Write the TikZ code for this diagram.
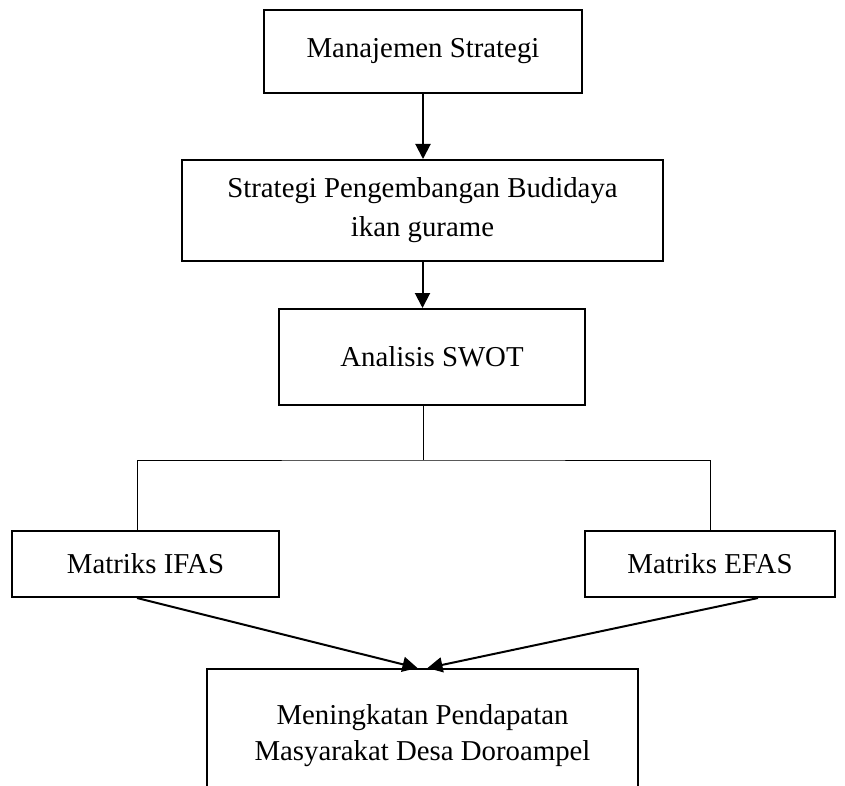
\documentclass[tikz,border=0pt]{standalone}
\usepackage{fontspec}
\setmainfont{Liberation Serif}
\usetikzlibrary{arrows.meta}

\begin{document}
\begin{tikzpicture}[x=0.5pt,y=-0.5pt,
  blk/.style={draw,line width=1pt,align=center,inner sep=0pt,font=\fontsize{14.4}{18}\selectfont},
  arr/.style={line width=1pt,-{Triangle[length=7.5pt,width=7.5pt]}},
  link/.style={line width=0.5pt}]
  \clip (0,0) rectangle (845,786);
  % boxes
  \node[blk,minimum width=159pt,minimum height=41.5pt] (mgmt) at (423,51.5) {Manajemen Strategi};
  \node[blk,minimum width=240.5pt,minimum height=50.5pt,
    font=\fontsize{14.4}{19.5}\selectfont] (budidaya) at (422.5,210.5)
    {Strategi Pengembangan Budidaya\\ikan gurame};
  \node[blk,minimum width=153pt,minimum height=48pt] (swot) at (432,357) {Analisis SWOT};
  \node[blk,minimum width=133.5pt,minimum height=33pt] (ifas) at (145.5,564) {Matriks IFAS};
  \node[blk,minimum width=125pt,minimum height=33pt] (efas) at (710,564) {Matriks EFAS};
  \node[blk,minimum width=215.5pt,minimum height=67pt] (goal) at (422.5,736)
    {Meningkatan Pendapatan\\Masyarakat Desa Doroampel};
  % connectors
  \coordinate (hub) at (423,460);
  \draw[arr] (mgmt.south) -- (mgmt.south |- budidaya.north);
  \draw[arr] (budidaya.south) -- (budidaya.south |- swot.north);
  \draw[link] (swot.south -| hub) -- (hub);
  \draw[link] ([xshift=-4.25pt]ifas.north) |- (hub) -| (efas.north);
  \draw[arr] ([xshift=-4.25pt]ifas.south) -- ([xshift=-2.5pt]goal.north);
  \draw[arr] ([xshift=24pt]efas.south) -- ([xshift=2.5pt]goal.north);
\end{tikzpicture}
\end{document}
